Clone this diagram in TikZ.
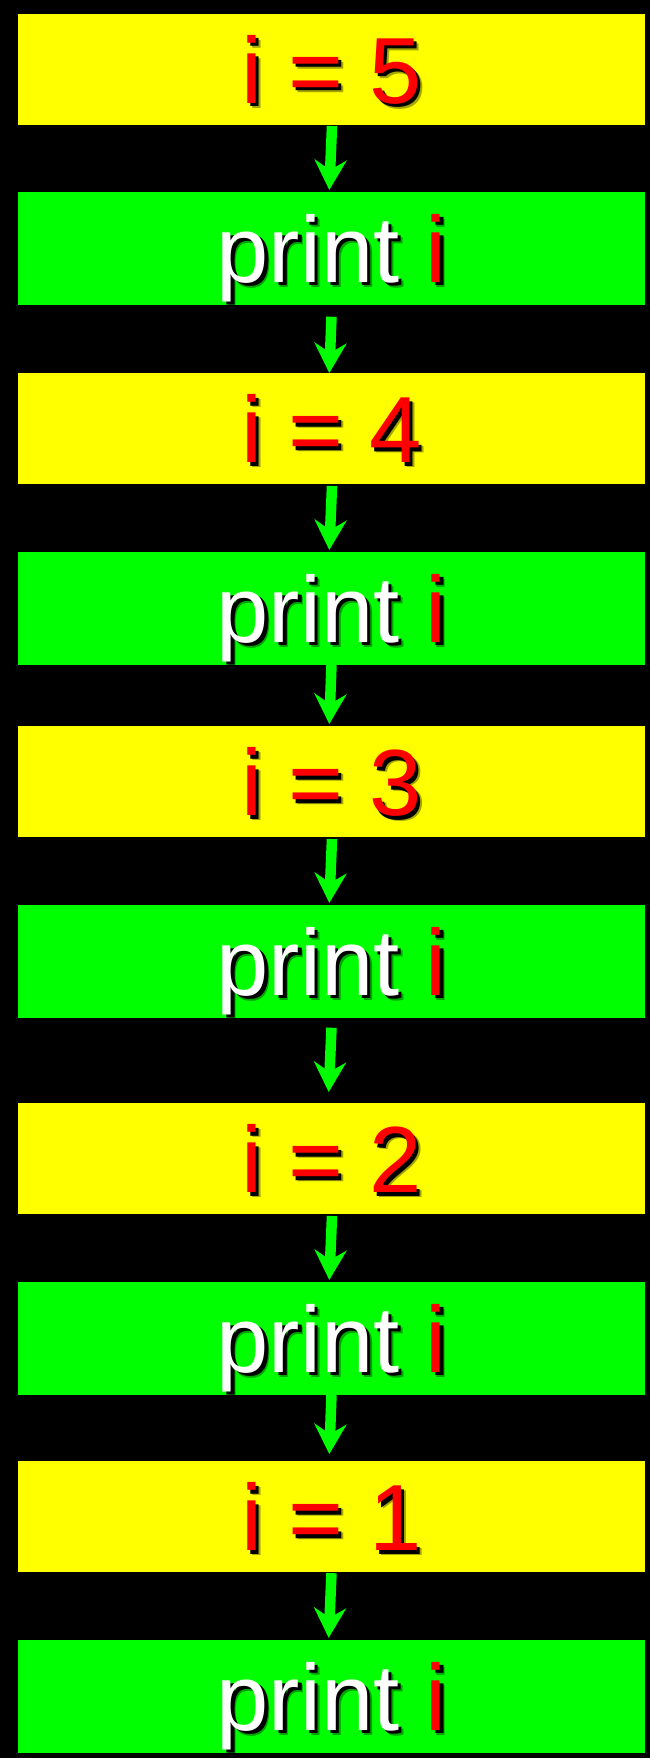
\documentclass[tikz,border=0pt]{standalone}
\usepackage{fontspec}
\setmainfont{Liberation Sans}
\usetikzlibrary{arrows.meta}
\definecolor{boxyellow}{RGB}{255,255,0}
\definecolor{boxgreen}{RGB}{0,255,0}
\definecolor{txtred}{RGB}{255,0,0}
\newcommand{\assigntxt}[2]{\textcolor{#1}{i = #2}}
\newcommand{\printtxt}[2]{\textcolor{#1}{print }\textcolor{#2}{i}}
\tikzset{
  stepyellow/.style={rectangle, fill=boxyellow, draw=none, outer sep=0pt, inner sep=0pt, minimum width=627pt, minimum height=111pt},
  stepgreen/.style={rectangle, fill=boxgreen, draw=none, outer sep=0pt, inner sep=0pt, minimum width=627pt, minimum height=112.7pt},
  txt/.style={anchor=base, inner sep=0pt, outer sep=0pt, font=\fontsize{94pt}{94pt}\selectfont},
  arr/.style={draw=boxgreen, line width=10.5pt, -{Stealth[length=30pt, width=32pt, inset=10pt]}}
}
\newcommand{\assignlabel}[2]{%
  \node[txt, opacity=0.35] at ([shift={(5pt,-39pt)}]#1.center) {\assigntxt{black}{#2}};
  \node[txt] at ([shift={(3.5pt,-37.5pt)}]#1.center) {\assigntxt{black}{#2}};
  \node[txt] at ([yshift=-34pt]#1.center) {\assigntxt{txtred}{#2}};
}
\newcommand{\printlabel}[1]{%
  \node[txt, opacity=0.35] at ([shift={(5pt,-39pt)}]#1.center) {\printtxt{black}{black}};
  \node[txt] at ([shift={(3.5pt,-37.5pt)}]#1.center) {\printtxt{black}{black}};
  \node[txt] at ([yshift=-34pt]#1.center) {\printtxt{white}{txtred}};
}
\begin{document}
\begin{tikzpicture}[x=1pt, y=1pt]
\fill[black] (0,0) rectangle (650,-1758);
\useasboundingbox (0,0) rectangle (650,-1758);

\node[stepyellow] (b1) at (331.5,-69.5) {};
\node[stepgreen] (b2) at (331.5,-248.35) {};
\node[stepyellow] (b3) at (331.5,-428.5) {};
\node[stepgreen] (b4) at (331.5,-608.35) {};
\node[stepyellow] (b5) at (331.5,-781.5) {};
\node[stepgreen] (b6) at (331.5,-961.35) {};
\node[stepyellow] (b7) at (331.5,-1158.5) {};
\node[stepgreen] (b8) at (331.5,-1338.35) {};
\node[stepyellow] (b9) at (331.5,-1516.6) {};
\node[stepgreen] (b10) at (331.5,-1696.2) {};

\assignlabel{b1}{5}
\printlabel{b2}
\assignlabel{b3}{4}
\printlabel{b4}
\assignlabel{b5}{3}
\printlabel{b6}
\assignlabel{b7}{2}
\printlabel{b8}
\assignlabel{b9}{1}
\printlabel{b10}

\draw[arr] ([xshift=0.5pt,yshift=-1pt]b1.south) -- ([xshift=-2.2pt,yshift=2pt]b2.north);
\draw[arr] ([xshift=0pt,yshift=-12pt]b2.south) -- ([xshift=-2.2pt,yshift=0pt]b3.north);
\draw[arr] ([xshift=0.5pt,yshift=-2pt]b3.south) -- ([xshift=-2.2pt,yshift=2pt]b4.north);
\draw[arr] ([xshift=0pt,yshift=0pt]b4.south) -- ([xshift=-2.2pt,yshift=2pt]b5.north);
\draw[arr] ([xshift=0.5pt,yshift=-2pt]b5.south) -- ([xshift=-2.2pt,yshift=2pt]b6.north);
\draw[arr] ([xshift=0pt,yshift=-10pt]b6.south) -- ([xshift=-2.8pt,yshift=11pt]b7.north);
\draw[arr] ([xshift=0.5pt,yshift=-2pt]b7.south) -- ([xshift=-2.2pt,yshift=2pt]b8.north);
\draw[arr] ([xshift=0pt,yshift=0pt]b8.south) -- ([xshift=-2.2pt,yshift=7pt]b9.north);
\draw[arr] ([xshift=0pt,yshift=-1pt]b9.south) -- ([xshift=-2.8pt,yshift=2pt]b10.north);
\end{tikzpicture}
\end{document}
